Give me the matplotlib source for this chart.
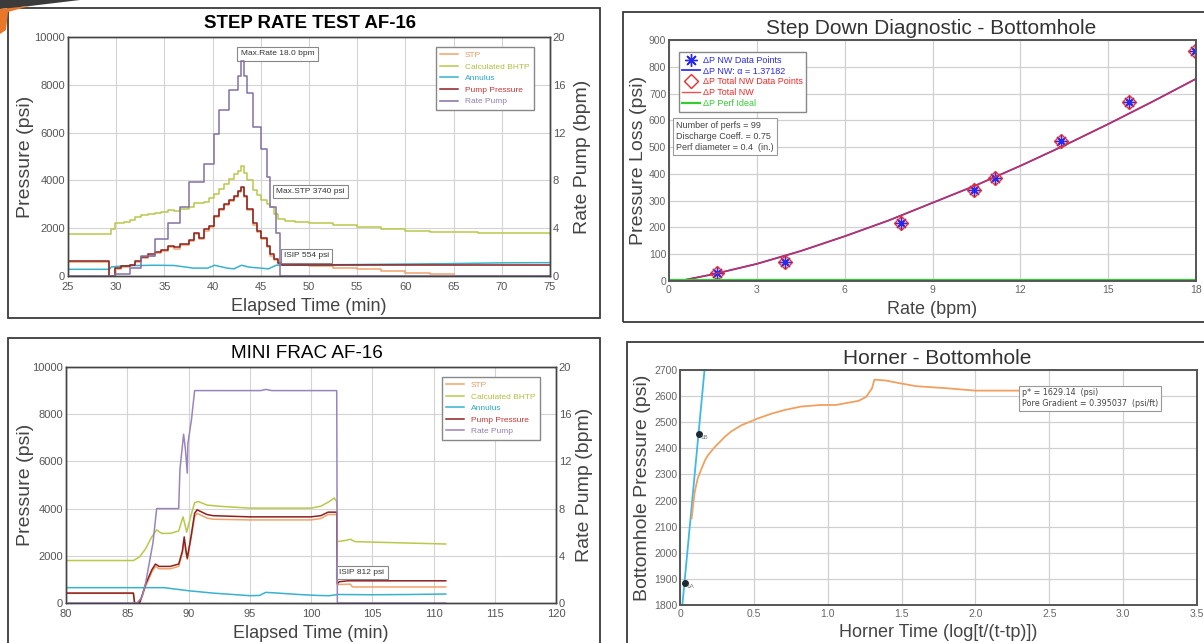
import numpy as np
import matplotlib
matplotlib.use('Agg')
import matplotlib.pyplot as plt
from matplotlib.patches import Rectangle, Polygon

plt.rcParams['font.family'] = ['Liberation Sans', 'DejaVu Sans']

W, H = 1204, 643

# ---------------- step rate test AF-16 ----------------
srt_rate_t = [25, 29.9, 31.4, 32.6, 34.0, 35.4, 36.6, 37.5, 39.1, 40.1, 40.7, 41.7, 42.6, 42.9,
              43.3, 43.6, 44.2, 45.0, 45.6, 46.0, 46.6, 47.0, 75]
srt_rate_v = [0, 0.2, 0.7, 1.7, 3.1, 4.4, 5.8, 7.9, 9.4, 11.9, 13.9, 15.6, 16.7, 18.0,
              16.7, 15.3, 12.5, 10.6, 8.3, 5.8, 3.6, 0, 0]

srt_pump_t = [25, 29.3, 29.9, 30.5, 31.4, 32.0, 32.6, 33.3, 34.0, 34.6, 35.4, 36.0, 36.6, 37.5,
              38.1, 38.6, 39.1, 39.6, 40.1, 40.7, 41.2, 41.7, 42.2, 42.6, 42.9, 43.3, 43.6, 44.2,
              44.6, 45.0, 45.6, 46.0, 46.4, 46.8, 47.2, 48.0, 75]
srt_pump_v = [620, 0, 350, 420, 480, 620, 800, 900, 1000, 1100, 1250, 1200, 1350, 1500,
              1800, 1600, 1950, 2100, 2500, 2800, 3000, 3200, 3350, 3550, 3740, 3350, 2800, 2200,
              1900, 1600, 1250, 900, 700, 550, 480, 450, 450]

srt_stp_t = [25, 29.3, 29.9, 30.5, 31.4, 32.0, 32.6, 33.3, 34.0, 34.6, 35.4, 36.0, 36.6, 37.5,
             38.1, 38.6, 39.1, 39.6, 40.1, 40.7, 41.2, 41.7, 42.2, 42.6, 42.9, 43.3, 43.6, 44.2,
             44.6, 45.0, 45.6, 46.0, 46.4, 46.8, 47.2, 48.5, 50, 52.5, 55, 57.5, 60, 62.5, 65,
             66, 75]
srt_stp_v = [600, 0, 300, 380, 440, 570, 750, 850, 950, 1050, 1200, 1150, 1300, 1450,
             1750, 1550, 1900, 2050, 2450, 2750, 2950, 3150, 3300, 3500, 3700, 3300, 2750, 2150,
             1850, 1550, 1200, 850, 650, 520, 540, 480, 420, 350, 280, 200, 130, 70, 20,
             0, 0]

srt_bhtp_t = [25, 29.5, 29.9, 30.8, 31.4, 32.0, 32.6, 33.3, 34.0, 34.6, 35.4, 36.0, 36.6, 37.5,
              38.1, 39.1, 39.6, 40.1, 40.7, 41.2, 41.7, 42.2, 42.6, 42.9, 43.3, 43.6, 44.2,
              44.6, 45.0, 45.6, 46.0, 46.4, 46.8, 47.5, 48.5, 50, 52.5, 55, 57.5, 60, 62.5,
              65, 67.5, 70, 72.5, 75]
srt_bhtp_v = [1750, 1950, 2200, 2250, 2350, 2450, 2550, 2600, 2650, 2680, 2750, 2700, 2800, 2900,
              3050, 3100, 3250, 3450, 3650, 3850, 4050, 4250, 4400, 4600, 4300, 4000, 3600,
              3400, 3200, 3000, 2900, 2600, 2400, 2300, 2250, 2200, 2120, 2050, 1980, 1900, 1860,
              1830, 1810, 1800, 1780, 1750]

srt_ann_t = [25, 29.3, 29.5, 31, 34, 36, 38, 39.5, 40.2, 41.5, 42.2, 43, 43.8, 45.8, 46.6, 48,
             55, 60, 65, 70, 75]
srt_ann_v = [280, 280, 380, 430, 450, 440, 330, 330, 450, 330, 300, 450, 370, 300, 450, 460,
             480, 500, 520, 550, 560]

# ---------------- mini frac AF-16 ----------------
mf_rate_t = [80, 85.8, 86.2, 86.5, 86.8, 87.1, 87.4, 89.2, 89.3, 89.6, 89.75, 89.9, 89.95,
             90.25, 90.5, 95.9, 96.3, 96.8, 102.1, 102.15, 111]
mf_rate_v = [0, 0, 0.5, 1.7, 3.4, 5.1, 8.0, 8.0, 11.3, 14.3, 13.0, 11.0, 13.5,
             15.6, 18.0, 18.0, 18.1, 18.0, 18.0, 0, 0]

mf_bhtp_t = [80, 85.5, 86.0, 86.5, 87.0, 87.4, 87.8, 88.5, 89.2, 89.55, 89.7, 89.85, 90.2,
             90.5, 90.8, 91.5, 92.5, 95, 100, 100.8, 101.5, 101.9, 102.1, 102.15, 102.8,
             103.2, 103.6, 105, 108, 111]
mf_bhtp_v = [1800, 1800, 1950, 2300, 2800, 3100, 2950, 2950, 3050, 3650, 3350, 3000, 3700,
             4250, 4300, 4150, 4100, 4020, 4020, 4100, 4300, 4450, 4300, 2600, 2650,
             2700, 2600, 2580, 2540, 2500]

mf_pump_t = [80, 85.5, 85.6, 86.0, 86.2, 86.5, 87.0, 87.3, 87.6, 88.5, 89.2, 89.5, 89.65,
             89.8, 89.9, 90.2, 90.5, 90.7, 91.5, 92, 95, 100, 100.8, 101.4, 102.1, 102.15,
             102.3, 103, 111]
mf_pump_v = [420, 420, 0, 0, 300, 800, 1400, 1650, 1550, 1550, 1650, 2200, 2800,
             2200, 1900, 2800, 3800, 3950, 3750, 3700, 3650, 3650, 3700, 3850, 3850, 820,
             900, 940, 940]

mf_stp_t = [80, 85.5, 85.6, 86.0, 86.2, 86.5, 87.0, 87.3, 87.6, 88.5, 89.2, 89.5, 89.65,
            89.8, 89.9, 90.2, 90.5, 90.7, 91.5, 92, 95, 100, 100.8, 101.4, 102.1, 102.15,
            103.2, 103.4, 111]
mf_stp_v = [410, 410, 0, 0, 250, 700, 1300, 1550, 1450, 1450, 1550, 2100, 2650,
            2100, 1850, 2700, 3650, 3800, 3600, 3550, 3520, 3520, 3580, 3750, 3750, 780,
            800, 680, 680]

mf_ann_t = [80, 88, 90, 92, 95, 95.8, 96.3, 97, 99, 100.5, 101.5, 102.2, 105, 108, 111]
mf_ann_v = [650, 650, 520, 420, 310, 320, 450, 430, 360, 320, 310, 360, 350, 360, 380]

# ---------------- step down diagnostic ----------------
sd_rate = [1.63, 3.97, 7.94, 10.42, 11.14, 13.4, 15.7, 17.96]
sd_dp = [31, 71, 215, 338, 385, 521, 669, 859]
sd_fit_x = [0.35, 1.5, 3, 4.5, 6, 7.5, 9, 10.5, 12, 13.5, 15, 16.5, 18]
sd_fit_y = [0, 25, 64, 112, 167, 226, 292, 358, 430, 506, 586, 669, 755]
sd_ideal_x = [0, 18]
sd_ideal_y = [3, 3]

# ---------------- horner ----------------
hn_x = [0.079, 0.09, 0.10, 0.12, 0.147, 0.17, 0.19, 0.237, 0.305, 0.35, 0.418, 0.53, 0.62,
        0.71, 0.82, 0.95, 1.055, 1.21, 1.26, 1.30, 1.316, 1.39, 1.5, 1.6, 1.81, 2.0, 2.32]
hn_p = [2132, 2190, 2234, 2285, 2324, 2355, 2374, 2406, 2445, 2466, 2489, 2515, 2533,
        2547, 2560, 2566, 2566, 2582, 2597, 2630, 2663, 2660, 2648, 2638, 2630, 2621, 2621]
hn_line_x = [0.016, 0.166]
hn_line_p = [1800, 2700]
hn_pts_x = [0.034, 0.129]
hn_pts_p = [1883, 2454]
hn_pts_lbl = ['1A', '1B']

c_stp = '#f0a46c'
c_bhtp = '#b9c84a'
c_ann = '#38b2cc'
c_pump = '#8e1f1f'
c_rate = '#8470a4'
legend_txt = ['#e89a60', '#b0c040', '#2aa8c4', '#c03838', '#9080b0']


def px_axes(fig, left, top, right, bottom):
    return fig.add_axes([left / W, 1 - bottom / H, (right - left) / W, (bottom - top) / H])


def style_time_axes(ax, axr, xlim, xticks):
    ax.set_xlim(*xlim)
    ax.set_ylim(0, 10000)
    axr.set_ylim(0, 20)
    ax.set_xticks(xticks)
    ax.set_yticks(range(0, 10001, 2000))
    axr.set_yticks(range(0, 21, 4))
    ax.grid(True, color='#d4d4d4', lw=0.8)
    ax.set_axisbelow(True)
    for a in (ax, axr):
        a.tick_params(length=0, labelsize=8, labelcolor='#555555', pad=2)
        for s in a.spines.values():
            s.set_color('#444444')
            s.set_linewidth(1.0)
    ax.tick_params(axis='x', pad=4)
    ax.set_ylabel('Pressure (psi)', fontsize=14, color='#444444')
    axr.set_ylabel('Rate Pump (bpm)', fontsize=14, color='#444444')
    ax.set_xlabel('Elapsed Time (min)', fontsize=13, color='#444444')


def time_legend(axr, handles, anchor):
    leg = axr.legend(handles=handles, loc='upper right', bbox_to_anchor=anchor, fontsize=6,
                     fancybox=False, framealpha=1, edgecolor='#888888', handlelength=2.2,
                     labelspacing=0.45, borderpad=0.5)
    for t, c in zip(leg.get_texts(), legend_txt):
        t.set_color(c)


def note(ax, x, y, s):
    ax.text(x, y, s, fontsize=6, color='#333333', va='center', ha='left',
            bbox=dict(boxstyle='square,pad=0.4', fc='white', ec='#888888', lw=0.8))


fig = plt.figure(figsize=(W / 100, H / 100), dpi=100)

# frames and corner decoration
for l, t, r, b in [(8, 8, 600, 318), (623, 12, 1210, 322), (8, 338, 600, 650), (627, 342, 1210, 650)]:
    fig.patches.append(Rectangle((l / W, 1 - b / H), (r - l) / W, (b - t) / H, fill=False,
                                 ec='#3a3a3a', lw=1.3, transform=fig.transFigure))
fig.patches.append(Polygon([(0, 1), (80 / W, 1), (30 / W, 1 - 6 / H), (0, 1 - 9 / H)],
                           closed=True, fc='#3b3b3b', ec='none', transform=fig.transFigure))
fig.patches.append(Polygon([(0, 1 - 9 / H), (30 / W, 1 - 6 / H), (8 / W, 1 - 12 / H), (6 / W, 1 - 30 / H),
                            (0, 1 - 34 / H)], closed=True, fc='#e8772a', ec='none',
                           transform=fig.transFigure))

# ---- panel 1: step rate test
ax1 = px_axes(fig, 68, 37, 550, 276)
ax1r = ax1.twinx()
h = []
h += ax1.plot(srt_stp_t, srt_stp_v, color=c_stp, lw=1.1, drawstyle='steps-post', label='STP')
h += ax1.plot(srt_bhtp_t, srt_bhtp_v, color=c_bhtp, lw=1.1, drawstyle='steps-post', label='Calculated BHTP')
h += ax1.plot(srt_ann_t, srt_ann_v, color=c_ann, lw=1.1, label='Annulus')
h += ax1.plot(srt_pump_t, srt_pump_v, color=c_pump, lw=1.1, drawstyle='steps-post', label='Pump Pressure')
h += ax1r.plot(srt_rate_t, srt_rate_v, color=c_rate, lw=1.1, drawstyle='steps-post', label='Rate Pump')
style_time_axes(ax1, ax1r, (25, 75), range(25, 76, 5))
ax1.yaxis.set_label_coords(-0.071, 0.5)
ax1r.yaxis.set_label_coords(1.050, 0.5)
ax1.xaxis.set_label_coords(0.5, -0.092)
time_legend(ax1r, h, (0.975, 0.975))
note(ax1, 42.9, 9290, 'Max.Rate 18.0 bpm')
note(ax1, 46.6, 3530, 'Max.STP 3740 psi')
note(ax1, 47.4, 850, 'ISIP 554 psi')
fig.text(310 / W, 1 - 23 / H, 'STEP RATE TEST AF-16', ha='center', va='center', fontsize=13.4,
         fontweight='bold')

# ---- panel 3: mini frac
ax3 = px_axes(fig, 66, 367, 556, 603)
ax3r = ax3.twinx()
h = []
h += ax3.plot(mf_stp_t, mf_stp_v, color=c_stp, lw=1.1, label='STP')
h += ax3.plot(mf_bhtp_t, mf_bhtp_v, color=c_bhtp, lw=1.1, label='Calculated BHTP')
h += ax3.plot(mf_ann_t, mf_ann_v, color=c_ann, lw=1.1, label='Annulus')
h += ax3.plot(mf_pump_t, mf_pump_v, color=c_pump, lw=1.1, label='Pump Pressure')
h += ax3r.plot(mf_rate_t, mf_rate_v, color='#9a84bc', lw=1.1, label='Rate Pump')
style_time_axes(ax3, ax3r, (80, 120), range(80, 121, 5))
ax3.yaxis.set_label_coords(-0.065, 0.5)
ax3r.yaxis.set_label_coords(1.041, 0.5)
ax3.xaxis.set_label_coords(0.5, -0.092)
time_legend(ax3r, h, (0.975, 0.975))
note(ax3, 102.3, 1290, 'ISIP 812 psi')
fig.text(307 / W, 1 - 353 / H, 'MINI FRAC AF-16', ha='center', va='center', fontsize=13.6)

# ---- panel 2: step down diagnostic
ax2 = px_axes(fig, 669, 40, 1196, 281)
ax2.plot(sd_rate, sd_dp, ls='none', marker=(8, 2, 0), ms=9, mew=1.0, color='#2a2aee',
         label='ΔP NW Data Points')
ax2.plot(sd_fit_x, sd_fit_y, color='#3030ee', lw=1.3, label='ΔP NW: α = 1.37182')
ax2.plot(sd_rate, sd_dp, ls='none', marker='D', ms=7, mfc='none', mec='#ee2a2a', mew=1.0,
         label='ΔP Total NW Data Points')
ax2.plot(sd_fit_x, sd_fit_y, color='#ee3030', lw=1.0, alpha=0.85, label='ΔP Total NW')
ax2.plot(sd_ideal_x, sd_ideal_y, color='#33cc33', lw=1.6, label='ΔP Perf Ideal')
ax2.set_xlim(0, 18)
ax2.set_ylim(0, 900)
ax2.set_xticks(range(0, 19, 3))
ax2.set_yticks(range(0, 901, 100))
leg = ax2.legend(loc='upper left', bbox_to_anchor=(0.0095, 0.968), fontsize=6.5, fancybox=False,
                 framealpha=1, edgecolor='#888888', handlelength=2.0, labelspacing=0.2,
                 borderpad=0.4, handletextpad=0.3)
for t, c in zip(leg.get_texts(), ['#2a2aee', '#2a2aee', '#ee2a2a', '#ee2a2a', '#33cc33']):
    t.set_color(c)
ax2.text(0.014, 0.665, 'Number of perfs = 99\nDischarge Coeff. = 0.75\nPerf diameter = 0.4  (in.)',
         transform=ax2.transAxes, fontsize=6.5, color='#444444', va='top', ha='left', linespacing=1.3,
         bbox=dict(boxstyle='square,pad=0.35', fc='white', ec='#999999', lw=0.8))
ax2.set_xlabel('Rate (bpm)', fontsize=13, color='#444444')
ax2.set_ylabel('Pressure Loss (psi)', fontsize=14, color='#444444')
ax2.yaxis.set_label_coords(-0.042, 0.5)
ax2.xaxis.set_label_coords(0.5, -0.081)
fig.text(931 / W, 1 - 28 / H, 'Step Down Diagnostic - Bottomhole', ha='center', va='center',
         fontsize=15, color='#333333')

# ---- panel 4: horner
ax4 = px_axes(fig, 680, 370, 1197, 605)
ax4.plot(hn_line_x, hn_line_p, color='#3fb8e8', lw=1.3)
ax4.plot(hn_x, hn_p, color='#f0a060', lw=1.3)
ax4.plot(hn_pts_x, hn_pts_p, ls='none', marker='o', ms=4, color='#1e2a33')
for x, p, s in zip(hn_pts_x, hn_pts_p, hn_pts_lbl):
    ax4.text(x + 0.012, p - 12, s, fontsize=4.5, color='#777777', va='center')
ax4.set_xlim(0, 3.5)
ax4.set_ylim(1800, 2700)
ax4.set_xticks(np.arange(0, 3.51, 0.5))
ax4.set_xticklabels(['0', '0.5', '1.0', '1.5', '2.0', '2.5', '3.0', '3.5'])
ax4.set_yticks(range(1800, 2701, 100))
ax4.text(0.662, 0.922, 'p* = 1629.14  (psi)\nPore Gradient = 0.395037  (psi/ft)',
         transform=ax4.transAxes, fontsize=5.8, color='#444444', va='top', ha='left',
         family='DejaVu Sans', linespacing=1.3,
         bbox=dict(boxstyle='square,pad=0.35', fc='white', ec='#999999', lw=0.8))
ax4.set_xlabel('Horner Time (log[t/(t-tp)])', fontsize=13, color='#444444')
ax4.set_ylabel('Bottomhole Pressure (psi)', fontsize=14, color='#444444')
ax4.yaxis.set_label_coords(-0.057, 0.5)
ax4.xaxis.set_label_coords(0.5, -0.081)
fig.text(937 / W, 1 - 358 / H, 'Horner - Bottomhole', ha='center', va='center',
         fontsize=15, color='#333333')

for ax in (ax2, ax4):
    ax.grid(True, color='#d0d0d0', lw=0.9)
    ax.set_axisbelow(True)
    ax.tick_params(length=0, labelsize=7.5, labelcolor='#666666', pad=2)
    ax.tick_params(axis='x', pad=3)
    for s in ax.spines.values():
        s.set_color('#555555')
        s.set_linewidth(1.4)

fig.savefig('out.png', dpi=100)
